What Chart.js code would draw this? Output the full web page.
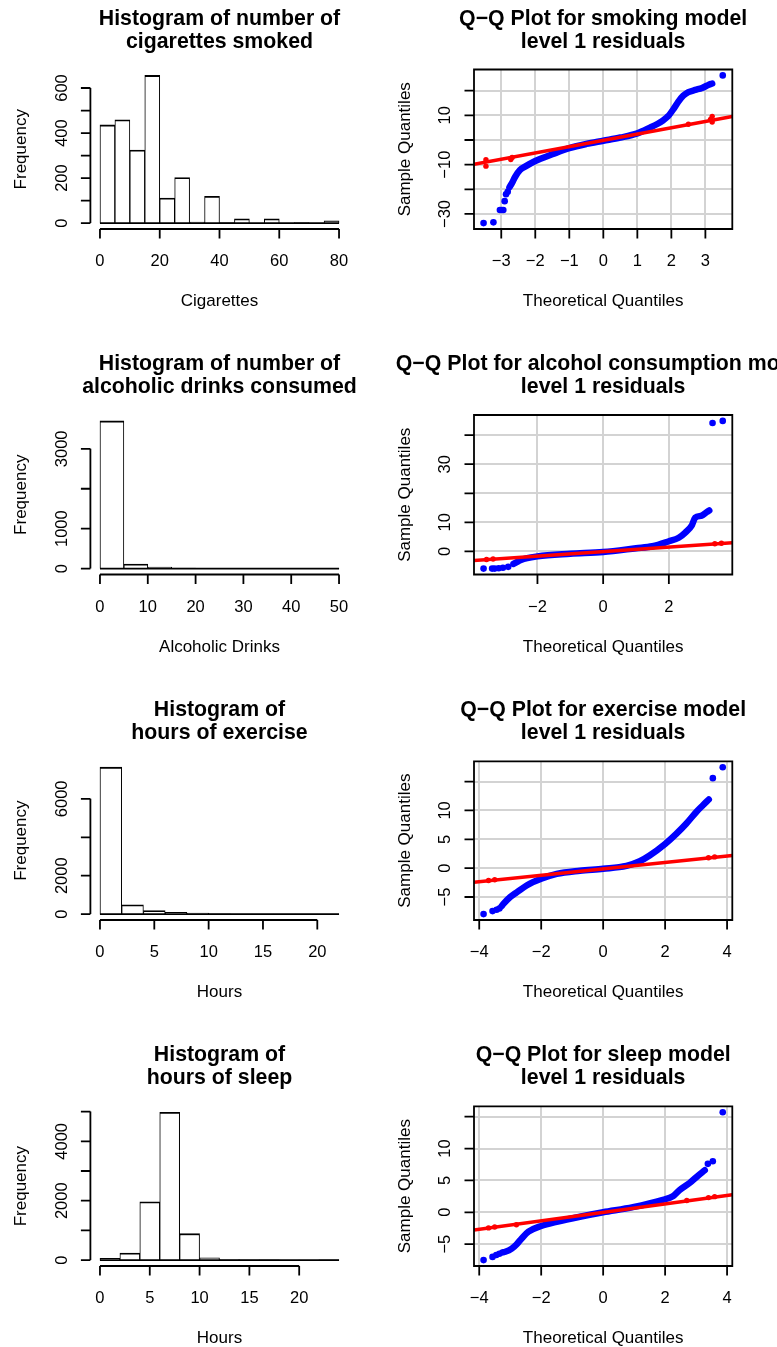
<!DOCTYPE html>
<html><head><meta charset="utf-8">
<script src="https://cdn.jsdelivr.net/npm/chart.js@4.4.0/dist/chart.umd.min.js"></script>
<style>
html,body{margin:0;padding:0;background:#fff;}
#wrap{position:relative;width:777px;height:1347px;overflow:hidden;background:#fff;}
canvas{position:absolute;}
</style></head><body><div id="wrap"></div>
<script>
// ================= DATA =================
// Histogram 1: cigarettes
const cigBreaks = [0,5,10,15,20,25,30,35,40,45,50,55,60,65,70,75,80];
const cigCounts = [436,459,324,656,111,202,5,119,2,19,0,19,0,2,0,10];
const cigXTicks = [0,20,40,60,80];
const cigXLabels = ['0','20','40','60','80'];
const cigYTicks = [0,100,200,300,400,500,600];
const cigYLabels = ['0','','200','','400','','600'];

// Histogram 2: alcoholic drinks
const alcBreaks = [0,5,10,15,20,25,30,35,40,45,50];
const alcCounts = [3700,115,40,12,4,2,2,1,1,8];
const alcXTicks = [0,10,20,30,40,50];
const alcXLabels = ['0','10','20','30','40','50'];
const alcYTicks = [0,1000,2000,3000];
const alcYLabels = ['0','1000','','3000'];

// Histogram 3: hours of exercise
const exBreaks = [0,2,4,6,8,10,12,14,16,18,20,22];
const exCounts = [7650,485,190,90,50,18,8,5,3,2,2];
const exXTicks = [0,5,10,15,20];
const exXLabels = ['0','5','10','15','20'];
const exYTicks = [0,2000,4000,6000];
const exYLabels = ['0','2000','','6000'];

// Histogram 4: hours of sleep
const slBreaks = [0,2,4,6,8,10,12,14,16,18,20,22,24];
const slCounts = [57,237,1961,4980,890,80,15,10,5,3,2,5];
const slXTicks = [0,5,10,15,20];
const slXLabels = ['0','5','10','15','20'];
const slYTicks = [0,1000,2000,3000,4000,5000];
const slYLabels = ['0','','2000','','4000',''];

// Q-Q 1: smoking model residuals
const smokeCurve = [[-2.76,-19.2],[-2.69,-17.6],[-2.59,-14.9],[-2.45,-12.2],[-2.3,-10.8],[-2.0,-8.5],[-1.5,-5.8],[-1.0,-3.3],[-0.5,-1.6],[0,-0.3],[0.5,1.0],[1.0,2.7],[1.37,5.0],[1.6,6.6],[1.76,8.0],[1.9,9.6],[2.06,12.5],[2.2,15.5],[2.35,18.0],[2.5,19.4],[2.7,20.3],[2.9,21.1],[3.1,22.4],[3.2,22.9]];
const smokePoints = [[-3.52,-33.7],[-3.23,-33.4],[-3.04,-28.4],[-2.99,-28.4],[-2.94,-28.4],[-2.90,-24.8],[-2.86,-22.0],[-2.81,-21.0],[3.51,26.2]];
const smokeLine = [[-3.80,-9.8],[3.79,9.5]];
const smokeMarks = [[-3.45,-8.0],[-3.45,-10.6],[-2.68,-7.1],[-2.72,-7.9],[2.5,6.4],[3.15,8.3],[3.2,9.6],[3.2,7.3]];
const smokeQQXTicks = [-3,-2,-1,0,1,2,3];
const smokeQQXLabels = ['\u22123','\u22122','\u22121','0','1','2','3'];
const smokeQQYTicks = [-30,-20,-10,0,10,20];
const smokeQQYLabels = ['\u221230','','\u221210','','10',''];

// Q-Q 2: alcohol model residuals
const alcCurve = [[-2.73,-4.3],[-2.6,-3.5],[-2.5,-2.9],[-2.0,-1.7],[-1.0,-0.8],[0,-0.2],[1.0,1.1],[1.5,1.8],[2.0,3.5],[2.3,4.7],[2.5,6.5],[2.7,9.0],[2.8,11.6],[3.0,12.3],[3.15,13.5],[3.23,14.1]];
const alcPoints = [[-3.64,-5.9],[-3.38,-5.9],[-3.30,-5.9],[-3.18,-5.8],[-3.05,-5.6],[-2.89,-5.3],[3.33,44.2],[3.64,44.9]];
const alcLine = [[-3.94,-3.1],[3.93,3.0]];
const alcMarks = [[-3.55,-2.75],[-3.35,-2.6],[3.4,2.65],[3.6,2.8]];
const alcQQXTicks = [-2,0,2];
const alcQQXLabels = ['\u22122','0','2'];
const alcQQYTicks = [0,10,20,30,40];
const alcQQYLabels = ['0','10','','30',''];

// Q-Q 3: exercise model residuals
const exCurve = [[-3.28,-6.6],[-3.22,-6.2],[-3.0,-5.0],[-2.79,-4.2],[-2.47,-3.0],[-2.0,-1.85],[-1.5,-1.0],[-0.75,-0.45],[0,-0.1],[0.75,0.4],[1.18,1.2],[1.5,2.2],[2.0,4.2],[2.36,5.95],[2.68,7.7],[3.0,9.7],[3.22,10.9],[3.41,11.9]];
const exPoints = [[-3.86,-7.97],[-3.57,-7.45],[-3.44,-7.2],[-3.35,-7.0],[3.54,15.6],[3.86,17.5]];
const exLine = [[-4.17,-2.43],[4.17,2.2]];
const exMarks = [[-3.7,-2.15],[-3.5,-2.0],[3.4,1.8],[3.6,1.95]];
const exQQXTicks = [-4,-2,0,2,4];
const exQQXLabels = ['\u22124','\u22122','0','2','4'];
const exQQYTicks = [-5,0,5,10,15];
const exQQYLabels = ['\u22125','0','5','10',''];

// Q-Q 4: sleep model residuals
const slCurve = [[-3.25,-6.3],[-3.16,-6.2],[-2.95,-5.7],[-2.79,-5.0],[-2.63,-4.1],[-2.41,-3.05],[-2.0,-2.15],[-1.5,-1.5],[-0.75,-0.7],[0,0],[0.96,0.8],[1.93,1.95],[2.25,2.5],[2.47,3.5],[2.79,4.6],[3.1,5.9],[3.28,6.6]];
const slPoints = [[-3.86,-7.5],[-3.57,-7.0],[-3.45,-6.7],[-3.35,-6.5],[3.38,7.6],[3.54,8.0],[3.86,15.7]];
const slLine = [[-4.17,-2.8],[4.17,2.74]];
const slMarks = [[-3.7,-2.45],[-3.5,-2.3],[-2.8,-1.95],[2.7,1.85],[3.4,2.3],[3.6,2.45]];
const slQQXTicks = [-4,-2,0,2,4];
const slQQXLabels = ['\u22124','\u22122','0','2','4'];
const slQQYTicks = [-5,0,5,10,15];
const slQQYLabels = ['\u22125','0','5','10',''];

// ================= LAYOUT =================
const FONT = '"Liberation Sans", Arial, Helvetica, sans-serif';
const COLS = [{left:0, width:388, L:90.4, R:348.6}, {left:376, width:401, L:474, R:732.3}];
const ROWS = [{top:0, height:346, T:69.5, B:229}, {top:346, height:345, T:415, B:574.5},
              {top:691, height:346, T:761.3, B:920}, {top:1037, height:310, T:1106.3, B:1266}];

function ext(lo, hi){ const d = (hi - lo) * 0.04; return [lo - d, hi + d]; }
const toXY = arr => arr.map(p => ({x:p[0], y:p[1]}));

const rDeco = {
  id: 'rdeco',
  afterDraw(chart, args, o) {
    const ctx = chart.ctx, a = chart.chartArea, xs = chart.scales.x, ys = chart.scales.y;
    const TL = 9.5;
    ctx.save();
    ctx.strokeStyle = '#000'; ctx.fillStyle = '#000'; ctx.lineWidth = 1.8; ctx.lineCap = 'butt';
    const xp = o.xTicks.map(v => xs.getPixelForValue(v));
    const yp = o.yTicks.map(v => ys.getPixelForValue(v));
    ctx.beginPath();
    if (o.box) {
      ctx.rect(a.left, a.top, a.right - a.left, a.bottom - a.top);
    } else {
      ctx.moveTo(xp[0], a.bottom); ctx.lineTo(xp[xp.length-1], a.bottom);
      ctx.moveTo(a.left, yp[0]); ctx.lineTo(a.left, yp[yp.length-1]);
    }
    xp.forEach(p => { ctx.moveTo(p, a.bottom); ctx.lineTo(p, a.bottom + TL); });
    yp.forEach(p => { ctx.moveTo(a.left, p); ctx.lineTo(a.left - TL, p); });
    ctx.stroke();
    ctx.textAlign = 'center'; ctx.textBaseline = 'alphabetic';
    ctx.font = '16.5px ' + FONT;
    o.xLabels.forEach((t, i) => { if (t) ctx.fillText(t, xp[i], a.bottom + 37); });
    o.yLabels.forEach((t, i) => { if (t) { ctx.save(); ctx.translate(a.left - 23.6, yp[i]); ctx.rotate(-Math.PI/2); ctx.fillText(t, 0, 0); ctx.restore(); } });
    ctx.font = '17px ' + FONT;
    const cx = (a.left + a.right) / 2;
    ctx.fillText(o.xTitle, cx, a.bottom + 77);
    ctx.save(); ctx.translate(a.left - 64, (a.top + a.bottom) / 2); ctx.rotate(-Math.PI/2); ctx.fillText(o.yTitle, 0, 0); ctx.restore();
    ctx.font = 'bold 21.3px ' + FONT;
    o.title.forEach((t, i) => ctx.fillText(t, cx, a.top - 45 + 23 * i));
    ctx.restore();
  }
};

function scaleOpts(range, ticks, size, horiz, grid) {
  return {
    type: 'linear', display: true, min: range[0], max: range[1], bounds: 'data', offset: false,
    afterBuildTicks: s => { s.ticks = ticks.map(v => ({value: v})); },
    afterFit: s => { if (horiz) s.height = size; else s.width = size; },
    ticks: {display: false},
    grid: {display: grid, drawOnChartArea: grid, drawTicks: false, color: '#d3d3d3', lineWidth: 2, offset: false},
    border: {display: false}
  };
}

function makeCanvas(col, row) {
  const c = document.createElement('canvas');
  c.width = col.width; c.height = row.height;
  c.style.left = col.left + 'px'; c.style.top = row.top + 'px';
  c.style.width = col.width + 'px'; c.style.height = row.height + 'px';
  document.getElementById('wrap').appendChild(c);
  return c;
}

function baseOptions(col, row, xs, ys, deco) {
  return {
    responsive: false, animation: false, devicePixelRatio: 1, events: [],
    layout: {padding: {left: 0, top: row.T - row.top, right: col.left + col.width - col.R, bottom: 0}},
    plugins: {legend: {display: false}, tooltip: {enabled: false}, title: {display: false}, rdeco: deco},
    scales: {x: xs, y: ys}
  };
}

function histogram(ci, ri, breaks, counts, xTicks, xLabels, yTicks, yLabels, title, xTitle) {
  const col = COLS[ci], row = ROWS[ri];
  const bars = counts.map((c, i) => ({x: (breaks[i] + breaks[i+1]) / 2, y: c}));
  const xr = ext(breaks[0], breaks[breaks.length-1]);
  const yr = ext(0, Math.max(...counts));
  const opts = baseOptions(col, row,
    scaleOpts(xr, xTicks, row.top + row.height - row.B, true, false),
    scaleOpts(yr, yTicks, col.L - col.left, false, false),
    {box: false, xTicks, xLabels, yTicks, yLabels, title, xTitle, yTitle: 'Frequency'});
  new Chart(makeCanvas(col, row), {
    type: 'bar',
    data: {datasets: [
      {type: 'line', data: [{x: breaks[0], y: 0}, {x: breaks[breaks.length-1], y: 0}], borderColor: '#000', borderWidth: 1.6, pointRadius: 0},
      {type: 'bar', data: bars, backgroundColor: '#fff', borderColor: '#000',
       borderWidth: {top: 1.8, left: 1, right: 1, bottom: 0}, borderSkipped: false,
       barPercentage: 1, categoryPercentage: 1}
    ]},
    options: opts,
    plugins: [rDeco]
  });
}

function qqplot(ci, ri, curve, points, line, marks, xTicks, xLabels, yTicks, yLabels, title) {
  const col = COLS[ci], row = ROWS[ri];
  const all = curve.concat(points);
  const xr = ext(Math.min(...all.map(p => p[0])), Math.max(...all.map(p => p[0])));
  const yr = ext(Math.min(...all.map(p => p[1])), Math.max(...all.map(p => p[1])));
  const opts = baseOptions(col, row,
    scaleOpts(xr, xTicks, row.top + row.height - row.B, true, true),
    scaleOpts(yr, yTicks, col.L - col.left, false, true),
    {box: true, xTicks, xLabels, yTicks, yLabels, title, xTitle: 'Theoretical Quantiles', yTitle: 'Sample Quantiles'});
  new Chart(makeCanvas(col, row), {
    type: 'scatter',
    data: {datasets: [
      {data: toXY(line), showLine: true, borderColor: '#ff0000', borderWidth: 3.5, pointRadius: 0},
      {data: toXY(marks), pointRadius: 2.7, backgroundColor: '#ff0000', borderWidth: 0},
      {data: toXY(curve), showLine: true, borderColor: '#0000ff', borderWidth: 6.5, pointRadius: 0,
       cubicInterpolationMode: 'monotone', borderCapStyle: 'round', borderJoinStyle: 'round'},
      {data: toXY(points), pointRadius: 3.3, backgroundColor: '#0000ff', borderWidth: 0}
    ]},
    options: opts,
    plugins: [rDeco]
  });
}

histogram(0, 0, cigBreaks, cigCounts, cigXTicks, cigXLabels, cigYTicks, cigYLabels, ['Histogram of number of', 'cigarettes smoked'], 'Cigarettes');
qqplot(1, 0, smokeCurve, smokePoints, smokeLine, smokeMarks, smokeQQXTicks, smokeQQXLabels, smokeQQYTicks, smokeQQYLabels, ['Q\u2212Q Plot for smoking model', 'level 1 residuals']);
histogram(0, 1, alcBreaks, alcCounts, alcXTicks, alcXLabels, alcYTicks, alcYLabels, ['Histogram of number of', 'alcoholic drinks consumed'], 'Alcoholic Drinks');
qqplot(1, 1, alcCurve, alcPoints, alcLine, alcMarks, alcQQXTicks, alcQQXLabels, alcQQYTicks, alcQQYLabels, ['Q\u2212Q Plot for alcohol consumption model', 'level 1 residuals']);
histogram(0, 2, exBreaks, exCounts, exXTicks, exXLabels, exYTicks, exYLabels, ['Histogram of', 'hours of exercise'], 'Hours');
qqplot(1, 2, exCurve, exPoints, exLine, exMarks, exQQXTicks, exQQXLabels, exQQYTicks, exQQYLabels, ['Q\u2212Q Plot for exercise model', 'level 1 residuals']);
histogram(0, 3, slBreaks, slCounts, slXTicks, slXLabels, slYTicks, slYLabels, ['Histogram of', 'hours of sleep'], 'Hours');
qqplot(1, 3, slCurve, slPoints, slLine, slMarks, slQQXTicks, slQQXLabels, slQQYTicks, slQQYLabels, ['Q\u2212Q Plot for sleep model', 'level 1 residuals']);
</script></body></html>
